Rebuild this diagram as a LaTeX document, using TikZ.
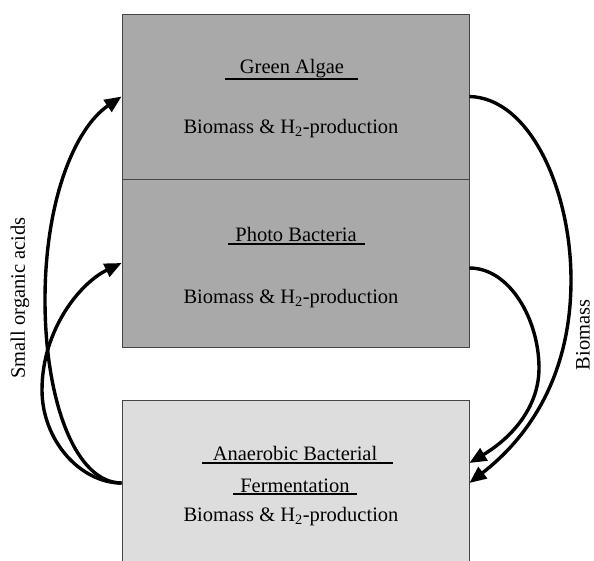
\documentclass[tikz,border=0pt]{standalone}
\usepackage{fontspec}
\setmainfont{Liberation Serif}
\usetikzlibrary{arrows.meta}
\definecolor{boxdark}{RGB}{169,169,169}
\definecolor{boxlight}{RGB}{221,221,221}
\definecolor{boxline}{RGB}{70,70,70}
\tikzset{
  box/.style={draw=boxline, line width=0.8pt, minimum width=347pt, inner sep=0pt},
  txt/.style={font=\fontsize{20.5}{24}\selectfont, inner sep=0pt, anchor=base},
  uline/.style={line width=2pt, black},
  conn/.style={line width=3.4pt, black, -{Triangle[length=17pt,width=14pt]}},
  sidelabel/.style={font=\fontsize{20.5}{24}\selectfont, inner sep=0pt, rotate=90}
}
\begin{document}
\begin{tikzpicture}[x=1pt,y=-1pt]
\useasboundingbox (0,0) rectangle (594,560);
% boxes
\node[box, fill=boxdark, minimum height=165pt] (boxA) at (295.5,96.5) {};
\node[box, fill=boxdark, minimum height=168pt] (boxB) at (295.5,263) {};
\node[box, fill=boxlight, minimum height=166pt] (boxC) at (295.5,483) {};
% texts
\node[txt] (ga) at (292,73) {Green Algae};
\node[txt] (gab) at (291,133) {Biomass \& H\textsubscript{2}-production};
\node[txt] (pb) at (296,241) {Photo Bacteria};
\node[txt] (pbb) at (291,303) {Biomass \& H\textsubscript{2}-production};
\node[txt] (ab) at (295,460) {Anaerobic Bacterial};
\node[txt] (fe) at (295,492) {Fermentation};
\node[txt] (abb) at (291,521) {Biomass \& H\textsubscript{2}-production};
% underlines
\draw[uline] ([xshift=-15pt,yshift=-6pt]ga.base west) -- ([xshift=14pt,yshift=-6pt]ga.base east);
\draw[uline] ([xshift=-7pt,yshift=-3pt]pb.base west) -- ([xshift=8pt,yshift=-3pt]pb.base east);
\draw[uline] ([xshift=-11pt,yshift=-3pt]ab.base west) -- ([xshift=16pt,yshift=-3pt]ab.base east);
\draw[uline] ([xshift=-7pt,yshift=-2pt]fe.base west) -- ([xshift=7pt,yshift=-2pt]fe.base east);
% side labels
\node[sidelabel] (soa) at (20,298) {Small organic acids};
\node[sidelabel] (bm) at (583,335) {Biomass};
% connectors: biomass (right)
\draw[conn] (boxA.east) .. controls (530,98) and (571,190) .. (571,280)
  .. controls (571,380) and (525,440) .. (boxC.east);
\draw[conn] ([yshift=-5pt]boxB.east) .. controls (510,268) and (539,320) .. (539,368)
  .. controls (539,410) and (508,440) .. ([yshift=20pt]boxC.east);
% connectors: small organic acids (left)
\draw[conn] (boxC.west) .. controls (75,483) and (45,400) .. (45,300)
  .. controls (45,200) and (75,128) .. (boxA.west);
\draw[conn] (boxC.west) .. controls (80,483) and (42,440) .. (42,390)
  .. controls (42,330) and (80,283) .. (boxB.west);
\end{tikzpicture}
\end{document}
